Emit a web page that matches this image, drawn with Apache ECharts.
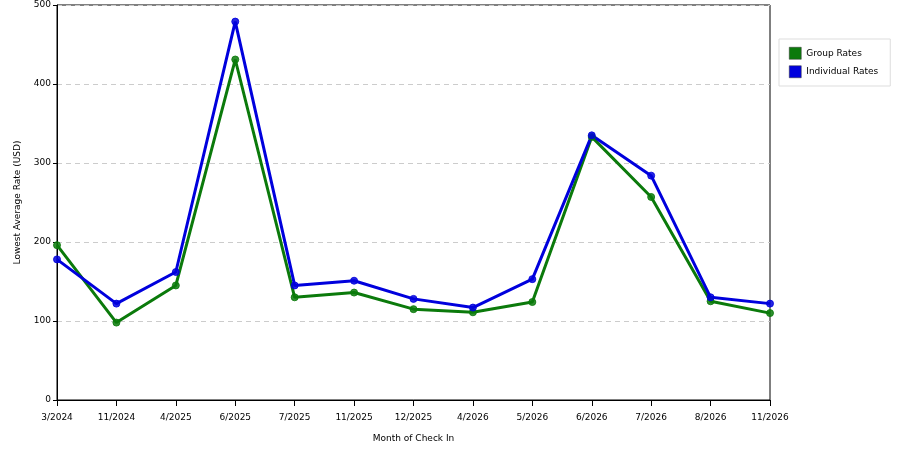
<!DOCTYPE html>
<html>
<head>
<meta charset="utf-8">
<script src="https://cdn.jsdelivr.net/npm/echarts@6/dist/echarts.min.js"></script>
<style>
  html, body { margin: 0; padding: 0; background: #fff; }
  #main { width: 900px; height: 450px; }
</style>
</head>
<body>
<div id="main"></div>
<script>
const months = ['3/2024', '11/2024', '4/2025', '6/2025', '7/2025', '11/2025', '12/2025',
  '4/2026', '5/2026', '6/2026', '7/2026', '8/2026', '11/2026'];
const groupRates = [196, 98, 145, 431, 130, 136, 115, 111, 124, 333, 257, 125, 110];
const individualRates = [178, 122, 162, 479, 145, 151, 128, 117, 153, 335, 284, 130, 122];
const yTicks = [0, 100, 200, 300, 400, 500];

const font = 'DejaVu Sans';
let chart = echarts.init(document.getElementById('main'));

function lineSeries(name, data, color) {
  return {
    name: name,
    type: 'line',
    data: data,
    symbol: 'circle',
    symbolSize: 7,
    lineStyle: { color: color, width: 3 },
    itemStyle: { color: color, borderColor: color, borderWidth: 1, opacity: 0.85 },
    emphasis: { disabled: true },
    animation: false
  };
}

chart.setOption({
  backgroundColor: '#fff',
  textStyle: { fontFamily: font },
  grid: { left: 57, right: 130, top: 5, bottom: 50, show: true, borderColor: '#000', borderWidth: 1 },
  legend: {
    orient: 'vertical',
    left: 779, top: 39,
    itemWidth: 12, itemHeight: 12, itemGap: 6,
    padding: [8, 12, 8, 10],
    borderColor: '#ddd', borderWidth: 1,
    icon: 'rect',
    textStyle: { fontSize: 9, color: '#000', fontFamily: font },
    itemStyle: { borderColor: '#333', borderWidth: 0.5, opacity: 1 },
    data: ['Group Rates', 'Individual Rates']
  },
  xAxis: {
    type: 'category',
    data: months,
    boundaryGap: false,
    name: 'Month of Check In',
    nameLocation: 'middle',
    nameGap: 34,
    nameTextStyle: { fontSize: 9, color: '#000' },
    axisLine: { lineStyle: { color: '#000' } },
    axisTick: { show: true, length: 6, alignWithLabel: true, lineStyle: { color: '#000' } },
    axisLabel: { fontSize: 9, color: '#000', margin: 13, interval: 0 },
    splitLine: { show: false }
  },
  yAxis: {
    type: 'value',
    min: yTicks[0], max: yTicks[yTicks.length - 1], interval: 100,
    name: 'Lowest Average Rate (USD)',
    nameLocation: 'middle',
    nameGap: 35,
    nameTextStyle: { fontSize: 9, color: '#000' },
    axisLine: { show: true, lineStyle: { color: '#000' } },
    axisTick: { show: true, length: 4, lineStyle: { color: '#000' } },
    axisLabel: { fontSize: 9, color: '#000', margin: 6 },
    splitLine: { show: true, lineStyle: { color: '#ccc', type: [5, 4], width: 1 } }
  },
  series: [
    lineSeries('Group Rates', groupRates, '#0b7a0b'),
    lineSeries('Individual Rates', individualRates, '#0000dd')
  ]
});
</script>
</body>
</html>
